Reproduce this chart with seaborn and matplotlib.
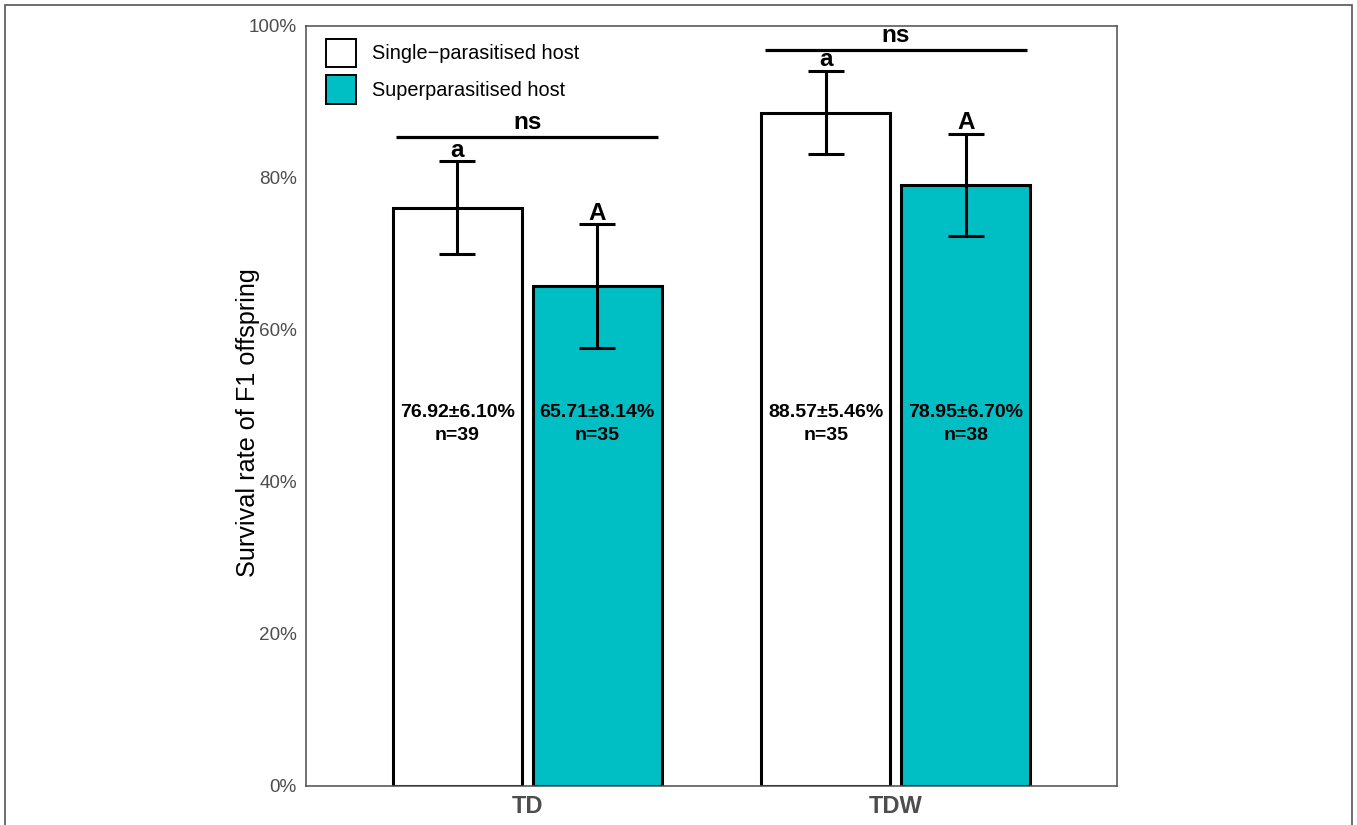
import matplotlib
matplotlib.use("Agg")
import matplotlib.pyplot as plt
from matplotlib.patches import Patch, Rectangle
import seaborn as sns
import pandas as pd

# ---- data ----
groups = ["TD", "TDW"]
hosts = ["Single\u2212parasitised host", "Superparasitised host"]
single_mean = [76.1, 88.6]
super_mean = [65.75, 79.1]
single_se = [6.1, 5.5]
super_se = [8.15, 6.7]
single_label = ["76.92\u00b16.10%", "88.57\u00b15.46%"]
super_label = ["65.71\u00b18.14%", "78.95\u00b16.70%"]
single_n = [39, 35]
super_n = [35, 38]
single_letter = ["a", "a"]
super_letter = ["A", "A"]
sig_text = ["ns", "ns"]
sig_height = [85.4, 96.9]
yticks = [0, 20, 40, 60, 80, 100]
ytick_labels = ["0%", "20%", "40%", "60%", "80%", "100%"]
ylabel = "Survival rate of F1 offspring"
colors = ["#FFFFFF", "#00BFC4"]

sns.set_style("white")
plt.rcParams["font.family"] = ["Liberation Sans", "DejaVu Sans"]
plt.rcParams["text.color"] = "black"

df = pd.DataFrame({
    "group": groups + groups,
    "host": [hosts[0]] * 2 + [hosts[1]] * 2,
    "rate": single_mean + super_mean,
})

W, H = 1357, 825
fig = plt.figure(figsize=(W / 100, H / 100), dpi=100)
ax = fig.add_axes([306 / W, 1 - 786 / H, (1117 - 306) / W, (786 - 26) / H])

sns.barplot(data=df, x="group", y="rate", hue="host", order=groups,
            hue_order=hosts, palette=dict(zip(hosts, colors)),
            edgecolor="black", linewidth=2.2, width=0.76, gap=0.08,
            errorbar=None, legend=False, saturation=1, ax=ax)

bars = sorted([p for p in ax.patches if p.get_height() > 0],
              key=lambda p: p.get_x())
centers = [p.get_x() + p.get_width() / 2 for p in bars]

means = [single_mean[0], super_mean[0], single_mean[1], super_mean[1]]
ses = [single_se[0], super_se[0], single_se[1], super_se[1]]
labels = [single_label[0], super_label[0], single_label[1], super_label[1]]
ns_ = [single_n[0], super_n[0], single_n[1], super_n[1]]
letters = [single_letter[0], super_letter[0], single_letter[1], super_letter[1]]

ax.errorbar(centers, means, yerr=ses, fmt="none", ecolor="black",
            elinewidth=2.2, capsize=13.3, capthick=2.2, zorder=5)

for x, m, s, lab, n, let in zip(centers, means, ses, labels, ns_, letters):
    ax.text(x, 47.6, f"{lab}\nn={n}", ha="center", va="center",
            fontsize=14, fontweight="bold", linespacing=1.45,
            color="black", zorder=6)
    ax.text(x, m + s + 0.6, let, ha="center", va="baseline",
            fontsize=17.5, fontweight="bold", color="black", zorder=6)

for i, (t, h) in enumerate(zip(sig_text, sig_height)):
    xc = (centers[2 * i] + centers[2 * i + 1]) / 2
    ax.plot([xc - 0.355, xc + 0.355], [h, h], color="black", lw=2.3,
            solid_capstyle="butt", zorder=6)
    ax.text(xc, h + 1.0, t, ha="center", va="baseline", fontsize=17.5,
            fontweight="bold", color="black", zorder=6)

ax.set_xlim(-0.6, 1.6)
ax.set_ylim(0, 100)
ax.set_yticks(yticks)
ax.set_yticklabels(ytick_labels)
ax.set_xlabel("")
ax.set_ylabel(ylabel, fontsize=18.2, color="black")
ax.yaxis.set_label_coords(-0.057, (786 - 423) / 760)

for sp in ax.spines.values():
    sp.set_visible(True)
    sp.set_color("#4D4D4D")
    sp.set_linewidth(1.1)

ax.tick_params(axis="both", direction="out", length=3.6, width=1.1,
               color="#4D4D4D", labelcolor="#4D4D4D", pad=3)
ax.tick_params(axis="y", labelsize=13.6)
ax.tick_params(axis="x", labelsize=17)
for lab in ax.get_xticklabels():
    lab.set_fontweight("bold")

handles = [Patch(facecolor=c, edgecolor="black", linewidth=1.4) for c in colors]
leg = ax.legend(handles, hosts, loc="upper left",
                bbox_to_anchor=(20 / 811, 1 - 13 / 760), frameon=False,
                fontsize=14.3, handlelength=1.5, handleheight=1.8,
                handletextpad=0.8, labelspacing=0.42, borderpad=0,
                borderaxespad=0)
for t in leg.get_texts():
    t.set_color("black")

fig.add_artist(Rectangle((4.5 / W, -0.02), (1352 - 4.5) / W,
                         1.02 - 4.7 / H, transform=fig.transFigure,
                         fill=False, edgecolor="#555555", linewidth=1.2))

fig.savefig("out.png", dpi=100)
